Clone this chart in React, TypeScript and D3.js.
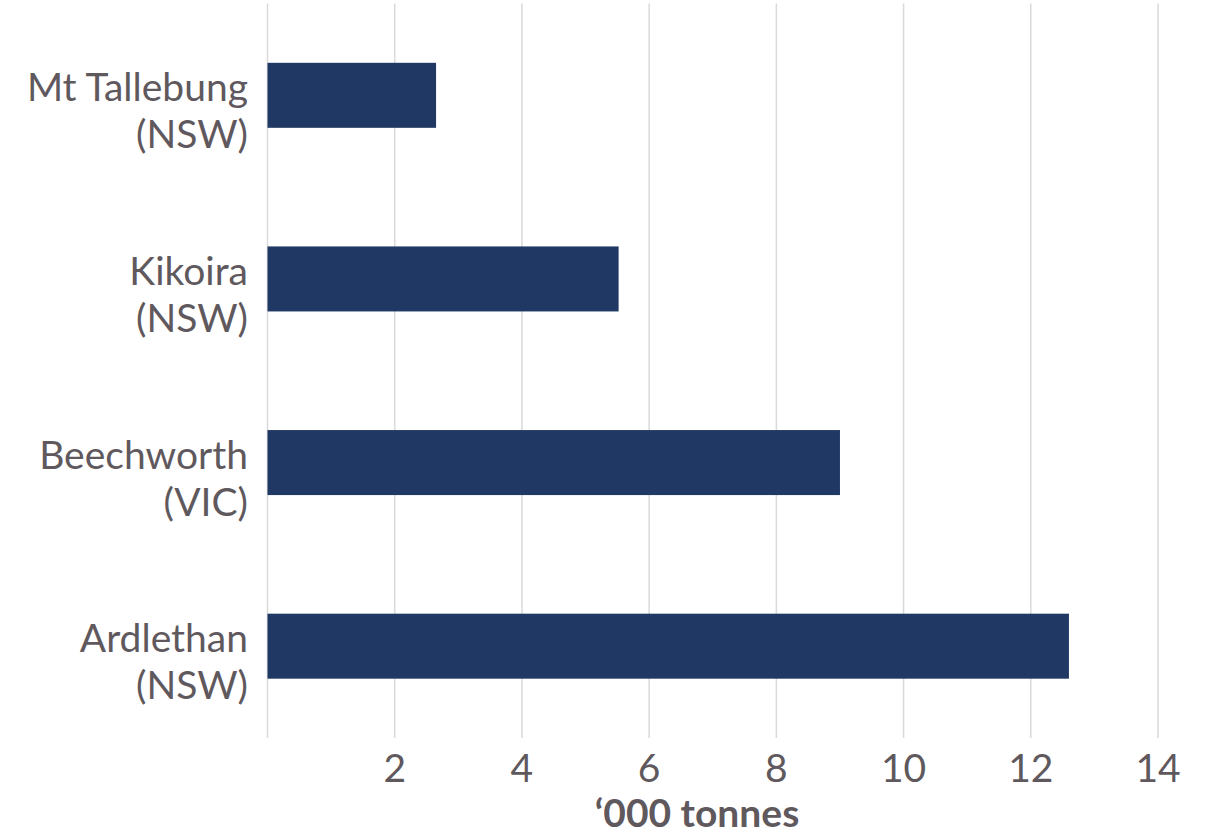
import React from "react";
import * as d3 from "d3";

// Tin production by mine site
const sites = ["Mt Tallebung", "Kikoira", "Beechworth", "Ardlethan"];
const states = ["NSW", "NSW", "VIC", "NSW"];
const tonnes = [2.65, 5.52, 9.0, 12.6];
const xTicks = [2, 4, 6, 8, 10, 12, 14];
const xTitle = "\u2018000 tonnes";

const W = 1208;
const H = 837;
const M = { top: 3.5, right: 50, bottom: 99, left: 267.5 };

const BAR = "#203864";
const TEXT = "#5f595e";
const GRID = "#d9d9d9";
const FONT = "Lato, 'Open Sans', sans-serif";

export default function App() {
  const x = d3.scaleLinear().domain([0, 14]).range([M.left, W - M.right]);
  const y = d3
    .scaleBand<string>()
    .domain(sites)
    .range([M.top, H - M.bottom])
    .paddingInner(0.646)
    .paddingOuter(0.323);

  const gridX = [0, ...xTicks];
  const fs = 39;

  return (
    <svg
      width={W}
      height={H}
      style={{ position: "absolute", left: 0, top: 0, background: "#fff" }}
      fontFamily={FONT}
    >
      {gridX.map((t) => (
        <line
          key={t}
          x1={x(t)}
          x2={x(t)}
          y1={M.top}
          y2={H - M.bottom}
          stroke={GRID}
          strokeWidth={1.5}
        />
      ))}
      {sites.map((s, i) => (
        <rect
          key={s}
          x={x(0)}
          y={y(s)!}
          width={x(tonnes[i]) - x(0)}
          height={y.bandwidth()}
          fill={BAR}
        />
      ))}
      {sites.map((s, i) => {
        const cy = y(s)! + y.bandwidth() / 2;
        return (
          <text
            key={s}
            x={248}
            textAnchor="end"
            fontSize={fs}
            fill={TEXT}
          >
            <tspan x={248} y={cy + 6}>
              {s}
            </tspan>
            <tspan x={248} y={cy + 53}>
              ({states[i]})
            </tspan>
          </text>
        );
      })}
      {xTicks.map((t) => (
        <text
          key={t}
          x={x(t)}
          y={782}
          textAnchor="middle"
          fontSize={fs}
          fill={TEXT}
        >
          {t}
        </text>
      ))}
      <text
        x={697}
        y={827}
        textAnchor="middle"
        fontSize={fs}
        fontWeight="bold"
        fill={TEXT}
      >
        {xTitle}
      </text>
    </svg>
  );
}
